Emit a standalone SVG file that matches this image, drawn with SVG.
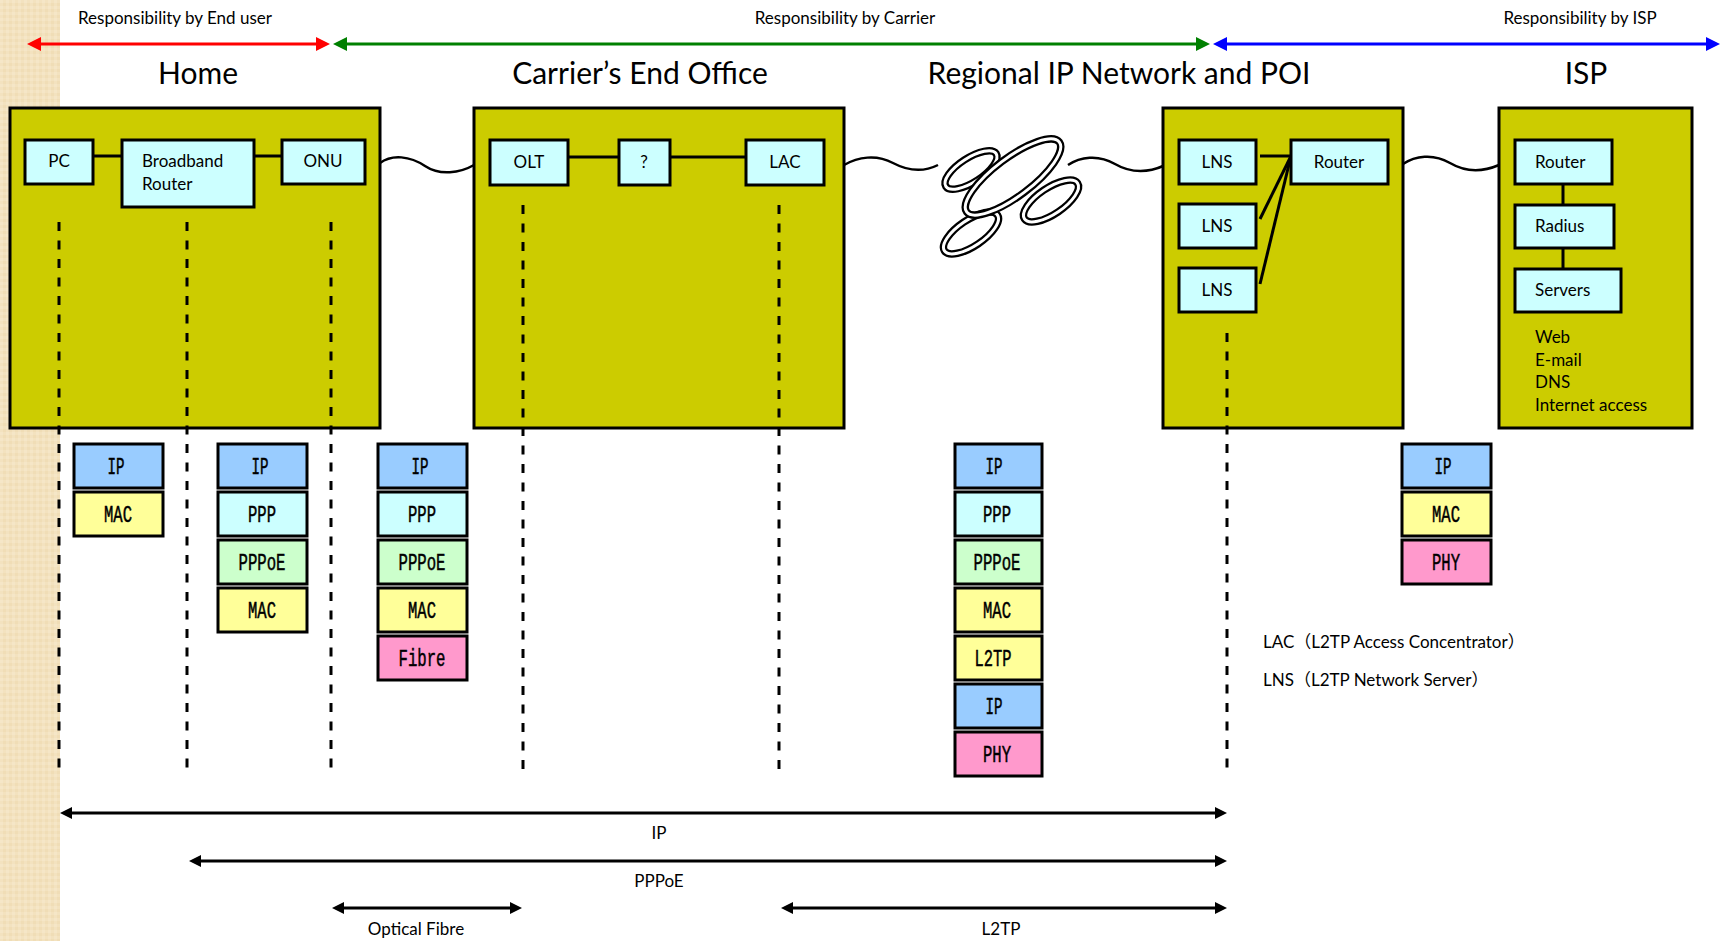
<svg xmlns="http://www.w3.org/2000/svg" width="1720" height="941" viewBox="0 0 1720 941">
<defs>
<style>
  .title { font-family: Lato, "Liberation Sans", sans-serif; font-size: 30px; fill: #000; text-anchor: middle; }
  .resp { font-family: Lato, "Liberation Sans", sans-serif; font-size: 17px; fill: #000; }
  .lbl { font-family: Lato, "Liberation Sans", sans-serif; font-size: 17px; fill: #000; }
  .mid { text-anchor: middle; }
  .site { fill: #CCCC00; stroke: #000; stroke-width: 3; }
  .dev { fill: #CCFFFF; stroke: #000; stroke-width: 3; }
  .link { stroke: #000; stroke-width: 3; fill: none; }
  .wave { stroke: #000; stroke-width: 2.5; fill: none; }
  .dash { stroke: #000; stroke-width: 3; stroke-dasharray: 9 9.5; fill: none; }
  .span { stroke: #000; stroke-width: 3; fill: none; marker-start: url(#ah-black); marker-end: url(#ah-black); }
  .loop-o { fill: none; stroke: #000; stroke-width: 7.5; }
  .loop-i { fill: none; stroke: #fff; stroke-width: 3; }
  .layer { stroke: #000; stroke-width: 3; }
  .ip { fill: #99CCFF; }
  .mac { fill: #FFFF99; }
  .ppp { fill: #CCFFFF; }
  .pppoe { fill: #CCFFCC; }
  .phy { fill: #FF99CC; }
  .lt { font-family: "Liberation Mono", "DejaVu Sans Mono", monospace; font-size: 23px; fill: #000; stroke: #000; stroke-width: 0.5; text-anchor: middle; }
  .gloss { font-family: Lato, "Noto Sans CJK JP", sans-serif; font-size: 17px; fill: #000; }
</style>
<pattern id="linen" width="6" height="6" patternUnits="userSpaceOnUse">
  <rect width="6" height="6" fill="#F3E2BF"/>
  <rect x="0" y="0" width="3" height="3" fill="#F5E6C7"/>
  <rect x="3" y="3" width="3" height="3" fill="#F0DDB6"/>
</pattern>
<marker id="ah-red" markerUnits="userSpaceOnUse" markerWidth="14" markerHeight="14" refX="2" refY="7" orient="auto-start-reverse">
  <path d="M0,0 L14,7 L0,14 z" fill="#FF0000"/>
</marker>
<marker id="ah-green" markerUnits="userSpaceOnUse" markerWidth="14" markerHeight="14" refX="2" refY="7" orient="auto-start-reverse">
  <path d="M0,0 L14,7 L0,14 z" fill="#008000"/>
</marker>
<marker id="ah-blue" markerUnits="userSpaceOnUse" markerWidth="14" markerHeight="14" refX="2" refY="7" orient="auto-start-reverse">
  <path d="M0,0 L14,7 L0,14 z" fill="#0000FF"/>
</marker>
<marker id="ah-black" markerUnits="userSpaceOnUse" markerWidth="12" markerHeight="12" refX="2" refY="6" orient="auto-start-reverse">
  <path d="M0,0 L12,6 L0,12 z" fill="#000"/>
</marker>
</defs>

<!-- page -->
<rect width="1720" height="941" fill="#fff"/>
<rect x="0" y="0" width="60" height="941" fill="url(#linen)"/>

<!-- responsibility bands -->
<g id="responsibility">
  <line x1="39" y1="44" x2="318" y2="44" stroke="#FF0000" stroke-width="3" marker-start="url(#ah-red)" marker-end="url(#ah-red)"/>
  <line x1="345" y1="44" x2="1198" y2="44" stroke="#008000" stroke-width="3" marker-start="url(#ah-green)" marker-end="url(#ah-green)"/>
  <line x1="1225" y1="44" x2="1708" y2="44" stroke="#0000FF" stroke-width="3" marker-start="url(#ah-blue)" marker-end="url(#ah-blue)"/>
  <text class="resp" x="78" y="24">Responsibility by End user</text>
  <text class="resp mid" x="845" y="24">Responsibility by Carrier</text>
  <text class="resp mid" x="1580" y="24">Responsibility by ISP</text>
</g>

<!-- site titles -->
<g id="titles">
  <text class="title" x="198" y="84">Home</text>
  <text class="title" x="640" y="84">Carrier’s End Office</text>
  <text class="title" x="1119" y="84">Regional IP Network and POI</text>
  <text class="title" x="1586" y="84">ISP</text>
</g>

<!-- sites -->
<g id="home">
  <rect class="site" x="10" y="108" width="370" height="320"/>
</g>
<g id="carrier-office">
  <rect class="site" x="474" y="108" width="370" height="320"/>
</g>
<g id="poi">
  <rect class="site" x="1163" y="108" width="240" height="320"/>
</g>
<g id="isp">
  <rect class="site" x="1499" y="108" width="193" height="320"/>
</g>

<!-- cloud of the regional IP network -->
<g id="regional-network">
  <ellipse class="loop-o" cx="971" cy="170" rx="30" ry="12" transform="rotate(-33 971 170)"/>
  <ellipse class="loop-i" cx="971" cy="170" rx="30" ry="12" transform="rotate(-33 971 170)"/>
  <ellipse class="loop-o" cx="971" cy="233" rx="32" ry="13" transform="rotate(-34 971 233)"/>
  <ellipse class="loop-i" cx="971" cy="233" rx="32" ry="13" transform="rotate(-34 971 233)"/>
  <ellipse class="loop-o" cx="1013" cy="177" rx="58" ry="19" transform="rotate(-37 1013 177)"/>
  <ellipse class="loop-i" cx="1013" cy="177" rx="58" ry="19" transform="rotate(-37 1013 177)"/>
  <ellipse class="loop-o" cx="1051" cy="201" rx="32" ry="13" transform="rotate(-34 1051 201)"/>
  <ellipse class="loop-i" cx="1051" cy="201" rx="32" ry="13" transform="rotate(-34 1051 201)"/>
</g>

<!-- connectors -->
<g id="connectors">
  <!-- links inside the sites -->
  <line class="link" x1="93" y1="156" x2="122" y2="156"/>
  <line class="link" x1="254" y1="156" x2="282" y2="156"/>
  <line class="link" x1="568" y1="157" x2="619" y2="157"/>
  <line class="link" x1="670" y1="157" x2="746" y2="157"/>
  <line class="link" x1="1260" y1="156" x2="1291" y2="156"/>
  <line class="link" x1="1291" y1="156" x2="1260" y2="219"/>
  <line class="link" x1="1291" y1="156" x2="1260" y2="284"/>
  <line class="link" x1="1563" y1="184" x2="1563" y2="205"/>
  <line class="link" x1="1563" y1="248" x2="1563" y2="269"/>

  <!-- access lines between sites -->
  <path class="wave" d="M380 163 C392 154, 410 156, 425 166 C440 176, 460 173, 474 165"/>
  <path class="wave" d="M844 165 C858 157, 876 154, 893 163 C910 172, 926 171, 938 165"/>
  <path class="wave" d="M1068 165 C1080 157, 1098 154, 1115 164 C1132 174, 1150 172, 1163 166"/>
  <path class="wave" d="M1403 164 C1415 156, 1433 153, 1450 163 C1467 173, 1485 171, 1499 165"/>

  <!-- protocol boundaries -->
  <line class="dash" x1="59" y1="222" x2="59" y2="773"/>
  <line class="dash" x1="187" y1="222" x2="187" y2="773"/>
  <line class="dash" x1="331" y1="222" x2="331" y2="773"/>
  <line class="dash" x1="523" y1="205" x2="523" y2="776"/>
  <line class="dash" x1="779" y1="205" x2="779" y2="776"/>
  <line class="dash" x1="1227" y1="333" x2="1227" y2="772"/>

  <!-- protocol spans -->
  <line class="span" x1="70" y1="813" x2="1217" y2="813"/>
  <line class="span" x1="199" y1="861" x2="1217" y2="861"/>
  <line class="span" x1="342" y1="908" x2="512" y2="908"/>
  <line class="span" x1="791" y1="908" x2="1217" y2="908"/>
  <text class="lbl mid" x="659" y="839">IP</text>
  <text class="lbl mid" x="659" y="887">PPPoE</text>
  <text class="lbl mid" x="416" y="935">Optical Fibre</text>
  <text class="lbl mid" x="1001" y="935">L2TP</text>
</g>

<!-- devices -->
<g id="pc"><rect class="dev" x="25" y="140" width="68" height="44"/><text class="lbl mid" x="59" y="167">PC</text></g>
<g id="broadband-router"><rect class="dev" x="122" y="140" width="132" height="67"/><text class="lbl" x="142" y="167">Broadband</text><text class="lbl" x="142" y="190">Router</text></g>
<g id="onu"><rect class="dev" x="282" y="140" width="83" height="44"/><text class="lbl mid" x="323" y="167">ONU</text></g>
<g id="olt"><rect class="dev" x="490" y="140" width="78" height="45"/><text class="lbl mid" x="529" y="168">OLT</text></g>
<g id="unknown"><rect class="dev" x="619" y="140" width="51" height="45"/><text class="lbl mid" x="644" y="168">?</text></g>
<g id="lac"><rect class="dev" x="746" y="140" width="78" height="45"/><text class="lbl mid" x="785" y="168">LAC</text></g>
<g id="lns-1"><rect class="dev" x="1179" y="140" width="77" height="44"/><text class="lbl mid" x="1217" y="168">LNS</text></g>
<g id="lns-2"><rect class="dev" x="1179" y="204" width="77" height="44"/><text class="lbl mid" x="1217" y="232">LNS</text></g>
<g id="lns-3"><rect class="dev" x="1179" y="268" width="77" height="44"/><text class="lbl mid" x="1217" y="296">LNS</text></g>
<g id="poi-router"><rect class="dev" x="1291" y="140" width="97" height="44"/><text class="lbl mid" x="1339" y="168">Router</text></g>
<g id="isp-router"><rect class="dev" x="1515" y="140" width="97" height="44"/><text class="lbl" x="1535" y="168">Router</text></g>
<g id="radius"><rect class="dev" x="1515" y="205" width="99" height="43"/><text class="lbl" x="1535" y="232">Radius</text></g>
<g id="servers"><rect class="dev" x="1515" y="269" width="106" height="43"/><text class="lbl" x="1535" y="296">Servers</text></g>
<g id="isp-services">
  <text class="lbl" x="1535" y="343">Web</text>
  <text class="lbl" x="1535" y="366">E-mail</text>
  <text class="lbl" x="1535" y="388">DNS</text>
  <text class="lbl" x="1535" y="411">Internet access</text>
</g>

<!-- protocol stacks -->
<g id="stack-pc">
  <rect class="layer ip" x="74" y="444" width="89" height="44"/><text class="lt" x="116" y="474" textLength="17" lengthAdjust="spacingAndGlyphs">IP</text>
  <rect class="layer mac" x="74" y="492" width="89" height="44"/><text class="lt" x="118" y="522" textLength="28" lengthAdjust="spacingAndGlyphs">MAC</text>
</g>
<g id="stack-router">
  <rect class="layer ip" x="218" y="444" width="89" height="44"/><text class="lt" x="260" y="474" textLength="17" lengthAdjust="spacingAndGlyphs">IP</text>
  <rect class="layer ppp" x="218" y="492" width="89" height="44"/><text class="lt" x="262" y="522" textLength="28" lengthAdjust="spacingAndGlyphs">PPP</text>
  <rect class="layer pppoe" x="218" y="540" width="89" height="44"/><text class="lt" x="262" y="570" textLength="47" lengthAdjust="spacingAndGlyphs">PPPoE</text>
  <rect class="layer mac" x="218" y="588" width="89" height="44"/><text class="lt" x="262" y="618" textLength="28" lengthAdjust="spacingAndGlyphs">MAC</text>
</g>
<g id="stack-onu">
  <rect class="layer ip" x="378" y="444" width="89" height="44"/><text class="lt" x="420" y="474" textLength="17" lengthAdjust="spacingAndGlyphs">IP</text>
  <rect class="layer ppp" x="378" y="492" width="89" height="44"/><text class="lt" x="422" y="522" textLength="28" lengthAdjust="spacingAndGlyphs">PPP</text>
  <rect class="layer pppoe" x="378" y="540" width="89" height="44"/><text class="lt" x="422" y="570" textLength="47" lengthAdjust="spacingAndGlyphs">PPPoE</text>
  <rect class="layer mac" x="378" y="588" width="89" height="44"/><text class="lt" x="422" y="618" textLength="28" lengthAdjust="spacingAndGlyphs">MAC</text>
  <rect class="layer phy" x="378" y="636" width="89" height="44"/><text class="lt" x="422" y="666" textLength="47" lengthAdjust="spacingAndGlyphs">Fibre</text>
</g>
<g id="stack-l2tp">
  <rect class="layer ip" x="955" y="444" width="87" height="44"/><text class="lt" x="994" y="474" textLength="17" lengthAdjust="spacingAndGlyphs">IP</text>
  <rect class="layer ppp" x="955" y="492" width="87" height="44"/><text class="lt" x="997" y="522" textLength="28" lengthAdjust="spacingAndGlyphs">PPP</text>
  <rect class="layer pppoe" x="955" y="540" width="87" height="44"/><text class="lt" x="997" y="570" textLength="47" lengthAdjust="spacingAndGlyphs">PPPoE</text>
  <rect class="layer mac" x="955" y="588" width="87" height="44"/><text class="lt" x="997" y="618" textLength="28" lengthAdjust="spacingAndGlyphs">MAC</text>
  <rect class="layer mac" x="955" y="636" width="87" height="44"/><text class="lt" x="993" y="666" textLength="37" lengthAdjust="spacingAndGlyphs">L2TP</text>
  <rect class="layer ip" x="955" y="684" width="87" height="44"/><text class="lt" x="994" y="714" textLength="17" lengthAdjust="spacingAndGlyphs">IP</text>
  <rect class="layer phy" x="955" y="732" width="87" height="44"/><text class="lt" x="997" y="762" textLength="28" lengthAdjust="spacingAndGlyphs">PHY</text>
</g>
<g id="stack-isp">
  <rect class="layer ip" x="1402" y="444" width="89" height="44"/><text class="lt" x="1443" y="474" textLength="17" lengthAdjust="spacingAndGlyphs">IP</text>
  <rect class="layer mac" x="1402" y="492" width="89" height="44"/><text class="lt" x="1446" y="522" textLength="28" lengthAdjust="spacingAndGlyphs">MAC</text>
  <rect class="layer phy" x="1402" y="540" width="89" height="44"/><text class="lt" x="1446" y="570" textLength="28" lengthAdjust="spacingAndGlyphs">PHY</text>
</g>

<!-- glossary -->
<g id="glossary">
  <text class="gloss" x="1263" y="648">LAC（L2TP Access Concentrator）</text>
  <text class="gloss" x="1263" y="686">LNS（L2TP Network Server）</text>
</g>
</svg>
